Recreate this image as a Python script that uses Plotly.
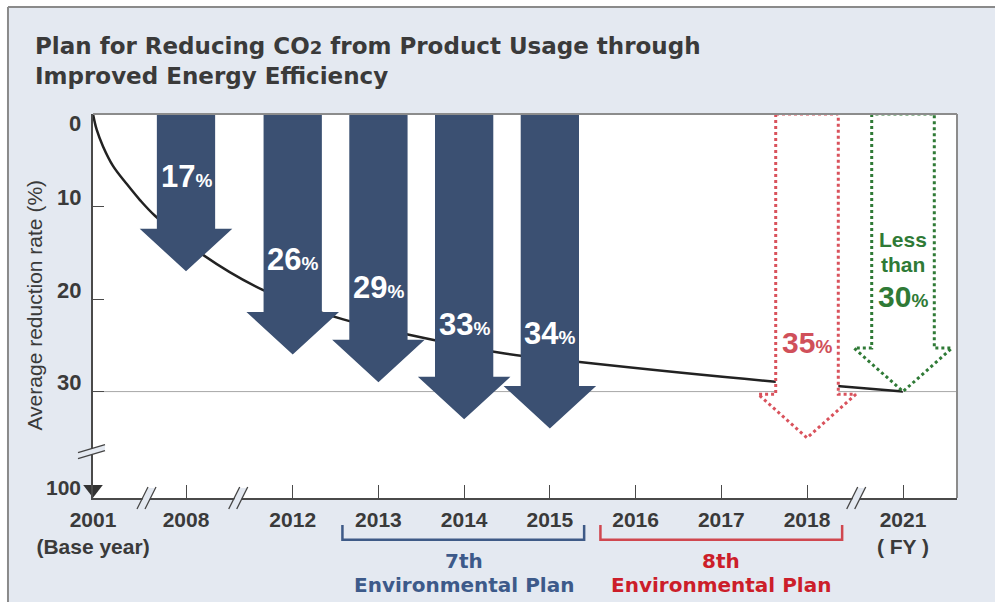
import plotly.graph_objects as go

# Fiscal years on the horizontal axis and their slot positions along the (broken) axis
years = ["2001", "2008", "2012", "2013", "2014", "2015", "2016", "2017", "2018", "2021"]
year_pos = [0.0, 1.085, 2.33, 3.33, 4.33, 5.33, 6.33, 7.33, 8.33, 9.45]
year_labels = ["2001<br>(Base year)", "2008", "2012", "2013", "2014", "2015",
               "2016", "2017", "2018", "2021<br>( FY )"]

# Achieved average reduction rates (%)
actual_years = ["2008", "2012", "2013", "2014", "2015"]
actual_rates = [17, 26, 29, 33, 34]

# Plan targets (%)
target_years = ["2018", "2021"]
target_rates = [35, 30]

# Planned reduction path from the base year (axis position, rate %)
curve_pos = [0.0, 0.043, 0.117, 0.233, 0.397, 0.548, 0.723, 1.28, 1.98,
             2.92, 3.66, 4.75, 5.57, 7.93, 8.68, 9.45]
curve_rate = [0.0, 1.7, 3.5, 5.6, 7.6, 9.3, 11.0, 15.2, 19.0,
              22.2, 23.8, 25.8, 26.7, 28.9, 29.4, 30.0]

# value-axis labels
y_ticks = [10, 20, 30]
y_tick_text = ["10", "20", "30"]

pos_of = dict(zip(years, year_pos))

NAVY = "#3b5072"
RED = "#d9525c"
RED_TEXT = "#cc1e2a"
GREEN = "#2f7a36"
BLUE_TEXT = "#3d5a8a"
BG = "#e4e9f1"
TXT = "#3a3a3a"
SANS = "Liberation Sans, Arial, Helvetica, sans-serif"
WIDE = "DejaVu Sans, Verdana, sans-serif"

X_MAX = 10.08
Y_MAX = 41.5


def arrow(cx, tip, half_w, head_hw, head_len, closed=False):
    """Down-pointing block arrow from the top of the plot to `tip`."""
    neck = tip - head_len
    xs = [cx - half_w, cx - half_w, cx - head_hw, cx, cx + head_hw, cx + half_w, cx + half_w]
    ys = [0, neck, neck, tip, neck, neck, 0]
    if closed:
        xs.append(xs[0])
        ys.append(ys[0])
    return xs, ys


fig = go.Figure()

# planned reduction curve
fig.add_trace(go.Scatter(
    x=curve_pos, y=curve_rate, mode="lines",
    line=dict(color="#222222", width=2.5, shape="spline", smoothing=1.0),
    hoverinfo="skip", showlegend=False))

# achieved reductions: solid arrows
for yr, v in zip(actual_years, actual_rates):
    xs, ys = arrow(pos_of[yr], v, 0.34, 0.54, 4.6)
    fig.add_trace(go.Scatter(
        x=xs, y=ys, mode="lines", fill="toself", fillcolor=NAVY,
        line=dict(color=NAVY, width=0), hoverinfo="skip", showlegend=False))
    fig.add_annotation(
        x=pos_of[yr], y=v - 10.3, xref="x", yref="y", showarrow=False,
        text=f"{v}<span style='font-size:19px'>%</span>",
        font=dict(family=SANS, size=31, color="white", weight="bold"))

# targets: dotted outline arrows
target_style = [(RED, "#d0505a"), (GREEN, GREEN)]
for (yr, v), (lc, tc) in zip(zip(target_years, target_rates), target_style):
    xs, ys = arrow(pos_of[yr], v, 0.365, 0.57, 4.7, closed=True)
    fig.add_trace(go.Scatter(
        x=xs, y=ys, mode="lines", fill="toself", fillcolor="white",
        line=dict(color=lc, width=3, dash="dot"), hoverinfo="skip", showlegend=False))
    fig.add_annotation(
        x=pos_of[yr], y=v - 10.3, xref="x", yref="y", showarrow=False,
        text=f"{v}<span style='font-size:19px'>%</span>",
        font=dict(family=SANS, size=30, color=tc, weight="bold"))

# "Less than" above the 2021 target
for txt, dy in [("Less", 57), ("than", 32)]:
    fig.add_annotation(
        x=pos_of["2021"], y=target_rates[1] - 10.3, xref="x", yref="y", yshift=dy,
        showarrow=False, text=txt,
        font=dict(family=SANS, size=21, color=GREEN, weight="bold"))

# base marker at the bottom of the value axis
fig.add_trace(go.Scatter(
    x=[0], y=[40.55], mode="markers",
    marker=dict(symbol="triangle-down", size=17, color="#333333"),
    cliponaxis=False, hoverinfo="skip", showlegend=False))

shapes = []
# outer white margin and panel border
shapes.append(dict(type="rect", xref="paper", yref="paper", x0=-0.3, x1=1.2,
                   y0=1.2787, y1=1.6, fillcolor="white", line=dict(width=0), layer="below"))
shapes.append(dict(type="rect", xref="paper", yref="paper", x0=-0.3, x1=-0.0984,
                   y0=-0.4, y1=1.6, fillcolor="white", line=dict(width=0), layer="below"))
shapes.append(dict(type="line", xref="paper", yref="paper", x0=-0.0984, x1=1.2,
                   y0=1.2787, y1=1.2787, line=dict(color="#8a8a8a", width=2)))
shapes.append(dict(type="line", xref="paper", yref="paper", x0=-0.0984, x1=-0.0984,
                   y0=-0.4, y1=1.2787, line=dict(color="#8a8a8a", width=2)))

# 30% reference line
shapes.append(dict(type="line", xref="paper", yref="y", x0=0, x1=1, y0=30, y1=30,
                   line=dict(color="#a8a8a8", width=1), layer="below"))

# plot frame (top and right)
shapes.append(dict(type="line", xref="paper", yref="paper", x0=0, x1=1, y0=1, y1=1,
                   line=dict(color="#8c8c8c", width=2)))
shapes.append(dict(type="line", xref="paper", yref="paper", x0=1, x1=1, y0=0, y1=1,
                   line=dict(color="#8c8c8c", width=2)))

# axis breaks
AXIS_BREAKS_X = [0.63, 1.70, 8.91]
for bx in AXIS_BREAKS_X:
    common = dict(xref="x", yref="paper", xsizemode="pixel", ysizemode="pixel",
                  xanchor=bx, yanchor=0)
    shapes.append(dict(type="path", path="M-9,-11 L1,10 L8,10 L-2,-11 Z",
                       fillcolor=BG, line=dict(width=0), **common))
    shapes.append(dict(type="path", path="M-10,-11 L1,11", line=dict(color="#444", width=1.3), **common))
    shapes.append(dict(type="path", path="M-2,-11 L9,11", line=dict(color="#444", width=1.3), **common))

ycommon = dict(xref="paper", yref="y", xsizemode="pixel", ysizemode="pixel",
               xanchor=0, yanchor=36.6)
shapes.append(dict(type="path", path="M-14,-6 L12,2 L12,8 L-14,0 Z",
                   fillcolor=BG, line=dict(width=0), **ycommon))
shapes.append(dict(type="path", path="M-15,-6 L12,2", line=dict(color="#444", width=1.3), **ycommon))
shapes.append(dict(type="path", path="M-15,0 L12,8", line=dict(color="#444", width=1.3), **ycommon))

# environmental plan brackets
bracket_specs = [
    (pos_of["2013"] - 0.42, pos_of["2015"] + 0.40, "#3e5a87"),
    (pos_of["2016"] - 0.41, pos_of["2018"] + 0.41, "#d0474f"),
]
for x0, x1, col in bracket_specs:
    shapes.append(dict(type="path", xref="x", yref="paper",
                       path=f"M{x0},-0.070 L{x0},-0.109 L{x1},-0.109 L{x1},-0.070",
                       line=dict(color=col, width=2.5)))

plan_labels = [
    ((pos_of["2013"] + pos_of["2015"]) / 2, BLUE_TEXT, "7th"),
    ((pos_of["2016"] + pos_of["2018"]) / 2, RED_TEXT, "8th"),
]
for cx, col, ordinal in plan_labels:
    fig.add_annotation(x=cx, y=-0.1641, xref="x", yref="paper", yanchor="middle",
                       showarrow=False, text=ordinal,
                       font=dict(family=WIDE, size=20, color=col, weight="bold"))
    fig.add_annotation(x=cx, y=-0.2266, xref="x", yref="paper", yanchor="middle",
                       showarrow=False, text="Environmental Plan",
                       font=dict(family=WIDE, size=20, color=col, weight="bold"))

# value-axis labels, set just above each tick
for v, t in zip(y_ticks, y_tick_text):
    fig.add_annotation(x=0, y=v, xref="paper", yref="y", xanchor="right", yanchor="middle",
                       xshift=-10, yshift=9, showarrow=False, text=t,
                       font=dict(family=SANS, size=22, color=TXT, weight="bold"))
fig.add_annotation(x=0, y=0, xref="paper", yref="y", xanchor="right", yanchor="middle",
                   xshift=-10, yshift=-9, showarrow=False, text="0",
                   font=dict(family=SANS, size=22, color=TXT, weight="bold"))
fig.add_annotation(x=0, y=40.4, xref="paper", yref="y", xanchor="right", yanchor="middle",
                   xshift=-10, showarrow=False, text="100",
                   font=dict(family=SANS, size=21, color=TXT, weight="bold"))

# axis title
fig.add_annotation(x=-0.0675, y=0.503, xref="paper", yref="paper", textangle=-90,
                   xanchor="center", yanchor="middle",
                   showarrow=False, text="Average reduction rate (%)",
                   font=dict(family=SANS, size=21, color=TXT))

# chart title
fig.add_annotation(
    x=-0.0694, y=1.2161, xref="paper", yref="paper", xanchor="left", yanchor="top",
    align="left", showarrow=False,
    text="Plan for Reducing CO<span style='font-size:18px'>2</span> from Product Usage through"
         "<br>Improved Energy Efficiency",
    font=dict(family=WIDE, size=23, color=TXT, weight="bold"))

fig.update_layout(
    width=995, height=602,
    margin=dict(l=93, r=38, t=114, b=104),
    paper_bgcolor=BG, plot_bgcolor="white",
    shapes=shapes,
    xaxis=dict(range=[0, X_MAX], showgrid=False, zeroline=False,
               showline=True, linecolor="#4a4a4a", linewidth=1.5,
               ticks="inside", ticklen=13, tickwidth=1.2, tickcolor="#4a4a4a",
               tickvals=year_pos, ticktext=year_labels, ticklabelstandoff=2,
               tickfont=dict(family=SANS, size=21, color=TXT, weight="bold")),
    yaxis=dict(range=[Y_MAX, 0], showgrid=False, zeroline=False,
               showline=True, linecolor="#4a4a4a", linewidth=1.5,
               ticks="inside", ticklen=11, tickwidth=1.2, tickcolor="#4a4a4a",
               tickvals=y_ticks, showticklabels=False),
)

fig.write_html("out.html")
